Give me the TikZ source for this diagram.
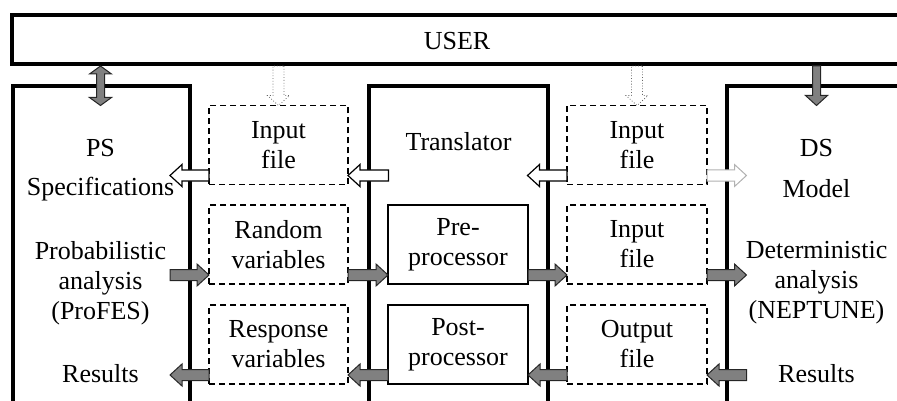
\documentclass[tikz,border=0pt]{standalone}
\usepackage{fontspec}
\setmainfont{Liberation Serif}
\usetikzlibrary{calc}
\tikzset{
  thickbox/.style={draw, line width=4pt, outer sep=0pt, inner sep=0pt, anchor=north west},
  dbox/.style={draw, line width=1.5pt, dash pattern=on 6pt off 4pt, outer sep=0pt, minimum width=139pt, minimum height=79pt, align=center, font=\fontsize{26}{30}\selectfont},
  sbox/.style={draw, line width=1.5pt, outer sep=0pt, minimum width=140pt, minimum height=79pt, align=center, font=\fontsize{26}{30}\selectfont},
  txt/.style={align=center, inner sep=0pt, font=\fontsize{26}{30}\selectfont},
  fillar/.style={fill=black!50, draw=black!85, line width=1pt, line join=miter},
  openar/.style={fill=white, draw=black, line width=1.2pt},
  lightar/.style={fill=white, draw=black!30, line width=1pt},
  dotar/.style={draw=black!60, dotted, line width=0.8pt},
}
\newcommand\fatpoly[4]{%
  \path ($(fae)!#4!(fas)$) coordinate (fac);
  \draw[#1] ($(fas)!#2!90:(fae)$) -- ($(fac)!#2!90:(fae)$) -- ($(fac)!#3!90:(fae)$) -- (fae)
    -- ($(fac)!#3!-90:(fae)$) -- ($(fac)!#2!-90:(fae)$) -- ($(fas)!#2!-90:(fae)$) -- cycle;}
\newcommand\harr[3][]{\path (#2) coordinate (fas); \path (#3 |- fas) coordinate (fae); \fatpoly{#1}{5.5pt}{11pt}{12pt}}
\newcommand\varr[4]{\path (#2) coordinate (fas); \path (fas |- #3) coordinate (fae); \fatpoly{#1}{#4}{11pt}{10pt}}
\newcommand\dblarr[2]{%
  \path (#1) coordinate (fas); \path (fas |- #2) coordinate (fae);
  \path ($(fas)!8pt!(fae)$) coordinate (fca) ($(fae)!8pt!(fas)$) coordinate (fcb);
  \draw[fillar] (fas) -- ($(fca)!11pt!90:(fae)$) -- ($(fca)!4pt!90:(fae)$) -- ($(fcb)!4pt!-90:(fas)$)
    -- ($(fcb)!11pt!-90:(fas)$) -- (fae) -- ($(fcb)!11pt!90:(fas)$) -- ($(fcb)!4pt!90:(fas)$)
    -- ($(fca)!4pt!-90:(fae)$) -- ($(fca)!11pt!-90:(fae)$) -- cycle;}
\begin{document}
\begin{tikzpicture}[x=1pt,y=-1pt]
\useasboundingbox (0,0) rectangle (897,401);
\clip (0,0) rectangle (897,401);
% big boxes
\node[thickbox, minimum width=910pt, minimum height=48.5pt] (user) at (12,15.5) {};
\node[txt] (usertxt) at (457,41) {USER};
\node[thickbox, minimum width=177.5pt, minimum height=340pt] (ps) at (12.5,86) {};
\node[thickbox, minimum width=179pt, minimum height=340pt] (tr) at (368.5,86) {};
\node[thickbox, minimum width=220pt, minimum height=340pt] (ds) at (726.5,86) {};
% texts in big boxes
\node[txt] (pstxt) at (100.5,148) {PS};
\node[txt] (spec) at (100.5,189) {Specifications};
\node[txt] (prob) at (100.5,283) {Probabilistic\\analysis\\(ProFES)};
\node[txt] (psres) at (100.5,374) {Results};
\node[txt] (trtxt) at (458.5,142) {Translator};
\node[txt] (dstxt) at (816.5,148) {DS};
\node[txt] (model) at (816.5,189) {Model};
\node[txt] (det) at (816.5,283) {Deterministic\\analysis\\(NEPTUNE)};
\node[txt] (dsres) at (816.5,374) {Results};
% dashed boxes
\node[dbox] (in1) at (278.5,145) {Input\\file};
\node[dbox] (rv) at (278.5,244.5) {Random\\variables};
\node[dbox] (resp) at (278.5,344.5) {Response\\variables};
\node[dbox, minimum width=140pt] (in2) at (637,145) {Input\\file};
\node[dbox, minimum width=140pt] (in3) at (637,244.5) {Input\\file};
\node[dbox, minimum width=140pt] (out) at (637,344.5) {Output\\file};
% solid boxes
\node[sbox] (pre) at (458,244.5) {Pre-\\processor};
\node[sbox] (post) at (458,344.5) {Post-\\processor};
% reference coordinates
\coordinate (psR) at ([xshift=-20pt]ps.east);
\coordinate (trL) at ([xshift=20pt]tr.west);
\coordinate (trR) at ([xshift=-20pt]tr.east);
\coordinate (dsL) at ([xshift=20pt]ds.west);
\coordinate (uB) at ([yshift=-2pt]user.south);
\coordinate (r1) at ([yshift=9pt]in1.south);
\coordinate (r2) at ([yshift=9pt]rv.south);
\coordinate (r3) at ([yshift=9pt]resp.south);
% vertical arrows
\dblarr{pstxt |- uB}{in1.north}
\varr{fillar}{dstxt |- uB}{in2.north}{4pt}
\varr{dotar}{in1.north |- uB}{in1.north}{5.5pt}
\varr{dotar}{in2.north |- uB}{in2.north}{5.5pt}
% row 1
\harr[openar]{in1.west |- r1}{psR}
\harr[openar]{trL |- r1}{in1.east}
\harr[openar]{in2.west |- r1}{trR}
\harr[lightar]{in2.east |- r1}{dsL}
% row 2
\harr[fillar]{psR |- r2}{rv.west}
\harr[fillar]{rv.east |- r2}{pre.west}
\harr[fillar]{pre.east |- r2}{in3.west}
\harr[fillar]{in3.east |- r2}{dsL}
% row 3
\harr[fillar]{out.west |- r3}{post.east}
\harr[fillar]{post.west |- r3}{resp.east}
\harr[fillar]{resp.west |- r3}{psR}
\harr[fillar]{dsL |- r3}{out.east}
\end{tikzpicture}
\end{document}
